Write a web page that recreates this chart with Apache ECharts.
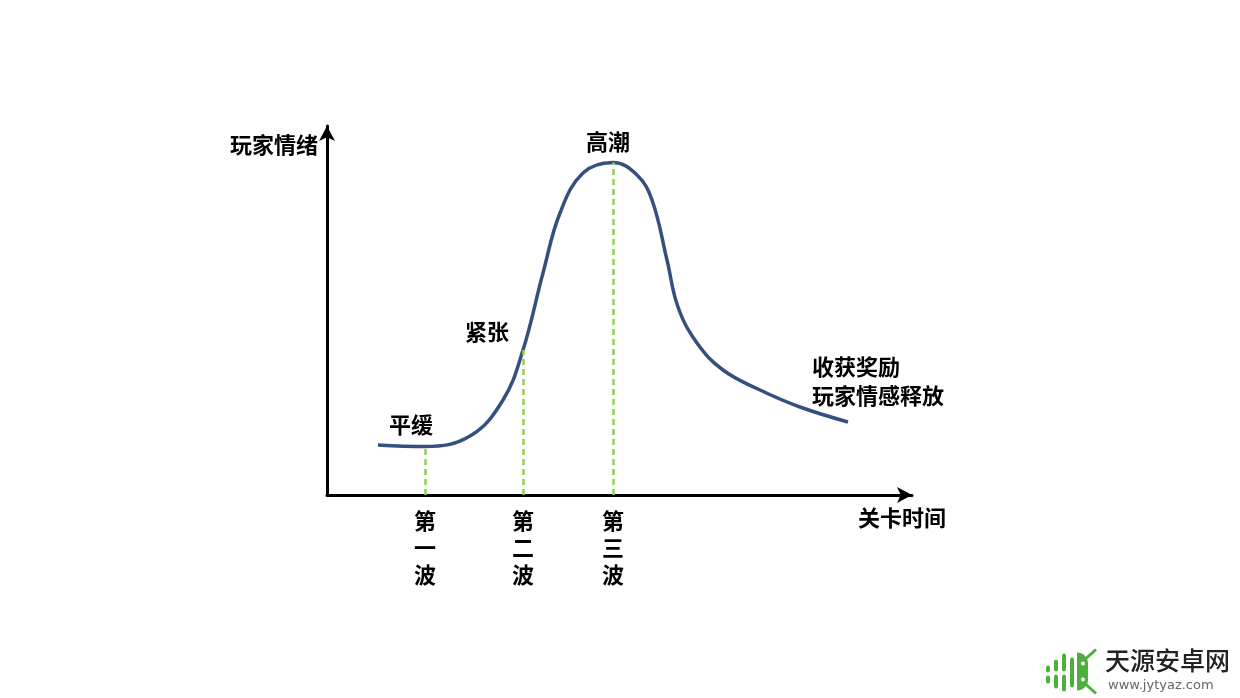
<!DOCTYPE html>
<html>
<head>
<meta charset="utf-8">
<script src="https://cdn.jsdelivr.net/npm/echarts@6/dist/echarts.min.js"></script>
<style>html,body{margin:0;padding:0;background:#fff}#c{width:1240px;height:698px}</style>
</head>
<body>
<div id="c"></div>
<script>
// Curve of player emotion over level time (x: time, y: emotion)
var curveX = [51, 98, 143, 176, 196, 216, 233, 256, 286, 310, 325, 340, 351, 370, 396, 433, 473, 521];
var curveY = [50, 48.5, 59, 95, 145, 222, 282, 322, 332.5, 320, 295, 235, 188, 152, 125, 105, 88, 73];
// Wave markers (x position, height of curve there)
var waveX = [98, 196, 286];
var waveTop = [48.5, 145, 332.5];
var waveLabels = ['第\n一\n波', '第\n二\n波', '第\n三\n波'];
// Annotations
var noteText = ['平缓', '紧张', '高潮'];
var noteX = [84, 160, 281];
var noteY = [70, 163, 353];
var endNote = '收获奖励\n玩家情感释放';
var endNoteX = 485, endNoteY = 114;
var yName = '玩家情绪', xName = '关卡时间';
var xMax = 585, yMax = 369;

var FONT = '"Noto Sans CJK SC", "Noto Sans", sans-serif';
var chart = echarts.init(document.getElementById('c'));

var lineData = curveX.map(function (x, i) { return [x, curveY[i]]; });
var markData = waveX.map(function (x, i) {
  return [{ coord: [x, 0] }, { coord: [x, waveTop[i]] }];
});
var notes = noteText.map(function (t, i) { return { value: [noteX[i], noteY[i]], name: t }; });

var green = '#4daf3c';
var txt = { fontFamily: FONT, fontWeight: 'bold', fontSize: 22, color: '#000' };
chart.setOption({
  animation: false,
  grid: { left: 327, right: 328, top: 126, bottom: 203 },
  xAxis: {
    type: 'value', min: 0, max: xMax,
    axisLine: { lineStyle: { color: '#000', width: 3 }, symbol: ['none', 'arrow'], symbolSize: [12, 15] },
    axisTick: { show: false }, splitLine: { show: false },
    axisLabel: Object.assign({
      customValues: waveX,
      formatter: function (v) { var i = waveX.indexOf(v); return i >= 0 ? waveLabels[i] : ''; },
      lineHeight: 27, margin: 12
    }, txt),
    name: xName, nameLocation: 'end', nameGap: -54,
    nameTextStyle: Object.assign({ align: 'left', verticalAlign: 'top', padding: [12, 0, 0, 0] }, txt)
  },
  yAxis: {
    type: 'value', min: 0, max: yMax,
    axisLine: { show: true, lineStyle: { color: '#000', width: 3 }, symbol: ['none', 'arrow'], symbolSize: [12, 15] },
    axisTick: { show: false }, splitLine: { show: false }, axisLabel: { show: false },
    name: yName, nameLocation: 'end', nameGap: -19,
    nameTextStyle: Object.assign({ align: 'right', verticalAlign: 'middle', padding: [0, 9, 0, 0] }, txt)
  },
  series: [
    {
      type: 'line', data: [], silent: true,
      markLine: {
        symbol: ['none', 'none'], silent: true, label: { show: false },
        lineStyle: { color: '#92d050', width: 2.5, type: [6, 4] },
        data: markData
      }
    },
    {
      type: 'line', data: lineData, smooth: 0.4, showSymbol: false,
      lineStyle: { color: '#34507f', width: 3.5 }, z: 3
    },
    {
      type: 'scatter', data: notes, symbolSize: 0, itemStyle: { opacity: 1 },
      label: Object.assign({ show: true, position: 'inside', formatter: '{b}' }, txt)
    },
    {
      type: 'scatter', data: [{ value: [endNoteX, endNoteY], name: endNote }], symbolSize: 0, itemStyle: { opacity: 1 },
      label: Object.assign({ show: true, position: 'inside', align: 'left', formatter: '{b}', lineHeight: 29 }, txt)
    }
  ],
  graphic: [
    { type: 'group', left: 1046, top: 647, children: [
      { type: 'rect', shape: { x: 2, y: 16, width: 4, height: 7, r: 2 }, style: { fill: green } },
      { type: 'rect', shape: { x: 2, y: 26, width: 4, height: 8, r: 2 }, style: { fill: green } },
      { type: 'rect', shape: { x: 10, y: 10, width: 4, height: 12, r: 2 }, style: { fill: green } },
      { type: 'rect', shape: { x: 10, y: 25, width: 4, height: 14, r: 2 }, style: { fill: green } },
      { type: 'rect', shape: { x: 18, y: 4, width: 4, height: 18, r: 2 }, style: { fill: green } },
      { type: 'rect', shape: { x: 18, y: 25, width: 4, height: 17, r: 2 }, style: { fill: green } },
      { type: 'rect', shape: { x: 26, y: 8, width: 4, height: 30, r: 2 }, style: { fill: green } },
      { type: 'rect', shape: { x: 33, y: 3, width: 11, height: 38, r: [0, 18, 18, 0] }, style: { fill: green } },
      { type: 'line', shape: { x1: 42, y1: 9, x2: 52, y2: 0 }, style: { stroke: green, lineWidth: 3 } },
      { type: 'line', shape: { x1: 42, y1: 35, x2: 52, y2: 44 }, style: { stroke: green, lineWidth: 3 } },
      { type: 'circle', shape: { cx: 39, cy: 14, r: 2 }, style: { fill: '#fff' } },
      { type: 'circle', shape: { cx: 39, cy: 30, r: 2 }, style: { fill: '#fff' } }
    ]},
    { type: 'text', left: 1105, top: 648, style: { text: '天源安卓网', fontFamily: FONT, fontSize: 25, fontWeight: 500, fill: '#222' } },
    { type: 'text', left: 1108, top: 679, style: { text: 'www.jytyaz.com', fontFamily: '"DejaVu Sans", sans-serif', fontSize: 13, fill: '#666' } }
  ]
});
</script>
</body>
</html>
